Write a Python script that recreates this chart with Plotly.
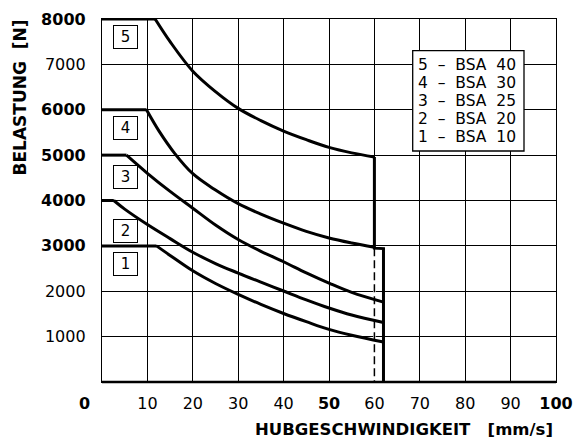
import plotly.graph_objects as go

# ---------------- data ----------------
x_ticks = [10, 20, 30, 40, 50, 60, 70, 80, 90, 100]
x_ticktext = ["10", "20", "30", "40", "<b>50</b>", "60", "70", "80", "90", "<b>100</b>"]
y_ticks = [1000, 2000, 3000, 4000, 5000, 6000, 7000, 8000]
y_ticktext = ["1000", "2000", "<b>3000</b>", "<b>4000</b>", "<b>5000</b>", "<b>6000</b>", "7000", "<b>8000</b>"]

# curve 5 - BSA 40
flat5 = [0, 11.7]; load5 = 8000
v5 = [11.7, 15, 20, 25, 30, 35, 40, 45, 50, 55, 60]
f5 = [8000, 7500, 6850, 6400, 6030, 5760, 5530, 5340, 5170, 5050, 4960]
# curve 4 - BSA 30
flat4 = [0, 9.8]; load4 = 6000
v4 = [9.8, 12.5, 16, 20, 25, 30, 35, 40, 45, 50, 55, 60]
f4 = [6000, 5540, 5040, 4590, 4230, 3930, 3700, 3500, 3320, 3175, 3065, 2970]
# curve 3 - BSA 25
flat3 = [0, 5.4]; load3 = 5000
v3 = [5.4, 10, 15, 20, 25, 30, 35, 40, 45, 50, 55, 62]
f3 = [5000, 4600, 4200, 3830, 3460, 3140, 2880, 2650, 2405, 2180, 1975, 1760]
# curve 2 - BSA 20
flat2 = [0, 2.6]; load2 = 4000
v2 = [2.6, 5, 10, 15, 20, 25, 30, 35, 40, 45, 50, 55, 62]
f2 = [4000, 3810, 3470, 3160, 2860, 2610, 2400, 2200, 2005, 1810, 1630, 1475, 1310]
# curve 1 - BSA 10
flat1 = [0, 12]; load1 = 3000
v1 = [12, 15, 20, 25, 30, 35, 40, 45, 50, 55, 62]
f1 = [3000, 2790, 2450, 2170, 1930, 1710, 1510, 1330, 1160, 1030, 880]

# speed limit boundary
limit_v = [60, 60, 62, 62]
limit_f = [4960, 2950, 2940, 0]
dash_v = [60, 60]
dash_f = [2950, 0]

box_labels = ["5", "4", "3", "2", "1"]
box_y = [7600, 5600, 4515, 3330, 2600]
legend_lines = ["5  –  BSA  40", "4  –  BSA  30", "3  –  BSA  25", "2  –  BSA  20", "1  –  BSA  10"]

# ---------------- figure ----------------
fig = go.Figure()
LW = 3
# hide the solid grid line under the dashed limit line
fig.add_trace(go.Scatter(x=dash_v, y=dash_f, mode="lines",
                         line=dict(color="white", width=2.5), hoverinfo="skip"))
for fv, fl in [(flat5, load5), (flat4, load4), (flat3, load3), (flat2, load2), (flat1, load1)]:
    fig.add_trace(go.Scatter(x=fv, y=[fl, fl], mode="lines",
                             line=dict(color="black", width=LW), hoverinfo="skip", cliponaxis=False))
for vv, ff in [(v5, f5), (v4, f4), (v3, f3), (v2, f2), (v1, f1)]:
    fig.add_trace(go.Scatter(x=vv, y=ff, mode="lines",
                             line=dict(color="black", width=LW, shape="spline", smoothing=1.0),
                             hoverinfo="skip", cliponaxis=False))
fig.add_trace(go.Scatter(x=dash_v, y=dash_f, mode="lines",
                         line=dict(color="black", width=1.5, dash="8px,4px"), hoverinfo="skip"))
fig.add_trace(go.Scatter(x=limit_v, y=limit_f, mode="lines",
                         line=dict(color="black", width=LW), hoverinfo="skip", cliponaxis=False))

FONT = "DejaVu Sans"
annotations = []
for lab, yv in zip(box_labels, box_y):
    annotations.append(dict(x=5.1, y=yv, xref="x", yref="y", text=lab, showarrow=False,
                            font=dict(family=FONT, size=15, color="black"),
                            bordercolor="black", borderwidth=1, borderpad=2, bgcolor="white",
                            width=19, height=18))
# legend box text lines
for i, t in enumerate(legend_lines):
    annotations.append(dict(x=(416 - 102) / 454, y=(382 - (65 + i * 18.1)) / 363,
                            xref="paper", yref="paper", xanchor="left", yanchor="middle",
                            text=t.replace(" ", "\u00a0"), showarrow=False,
                            font=dict(family=FONT, size=15.5, color="black")))
# origin label
annotations.append(dict(x=(84 - 102) / 454, y=(382 - 403) / 363, xref="paper", yref="paper",
                        text="<b>0</b>", showarrow=False, xanchor="center", yanchor="middle",
                        font=dict(family=FONT, size=16, color="black")))
# axis titles
annotations.append(dict(x=(404 - 102) / 454, y=(382 - 429) / 363, xref="paper", yref="paper",
                        text="<b>HUBGESCHWINDIGKEIT\u00a0\u00a0\u00a0[mm/s]</b>", showarrow=False,
                        xanchor="center", yanchor="middle",
                        font=dict(family=FONT, size=16.5, color="black")))
annotations.append(dict(x=(19 - 102) / 454, y=(382 - 97.5) / 363, xref="paper", yref="paper",
                        text="<b>BELASTUNG\u00a0\u00a0[N]</b>", showarrow=False, textangle=-90,
                        xanchor="center", yanchor="middle",
                        font=dict(family=FONT, size=17, color="black")))

shapes = [
    dict(type="rect", xref="paper", yref="paper",
         x0=(412.7 - 102) / 454, x1=(524 - 102) / 454,
         y0=(382 - 151) / 363, y1=(382 - 50.7) / 363,
         line=dict(color="black", width=1.3), fillcolor="white", layer="above"),
    dict(type="line", xref="paper", yref="paper", x0=0, x1=1, y0=0, y1=0,
         line=dict(color="black", width=2.5), layer="above"),
]

fig.update_layout(
    width=573, height=441,
    margin=dict(l=102, r=17, t=19, b=59, autoexpand=False),
    paper_bgcolor="white", plot_bgcolor="white",
    showlegend=False,
    font=dict(family=FONT, size=16, color="black"),
    annotations=annotations, shapes=shapes,
)
fig.update_xaxes(range=[0, 100], tickvals=x_ticks, ticktext=x_ticktext, automargin=False,
                 showgrid=True, gridcolor="black", gridwidth=1.3,
                 showline=True, linecolor="black", linewidth=1.3, mirror=True,
                 zeroline=False, ticks="", ticklabelstandoff=7,
                 tickfont=dict(family=FONT, size=16, color="black"))
fig.update_yaxes(range=[0, 8000], tickvals=y_ticks, ticktext=y_ticktext, automargin=False,
                 showgrid=True, gridcolor="black", gridwidth=1.3,
                 showline=True, linecolor="black", linewidth=1.3, mirror=True,
                 zeroline=False, ticks="", ticklabelstandoff=12,
                 tickfont=dict(family=FONT, size=16, color="black"))

fig.write_html("out.html", config={"displayModeBar": False},
               post_script="document.body.style.margin='0px';document.body.style.overflow='hidden';")
